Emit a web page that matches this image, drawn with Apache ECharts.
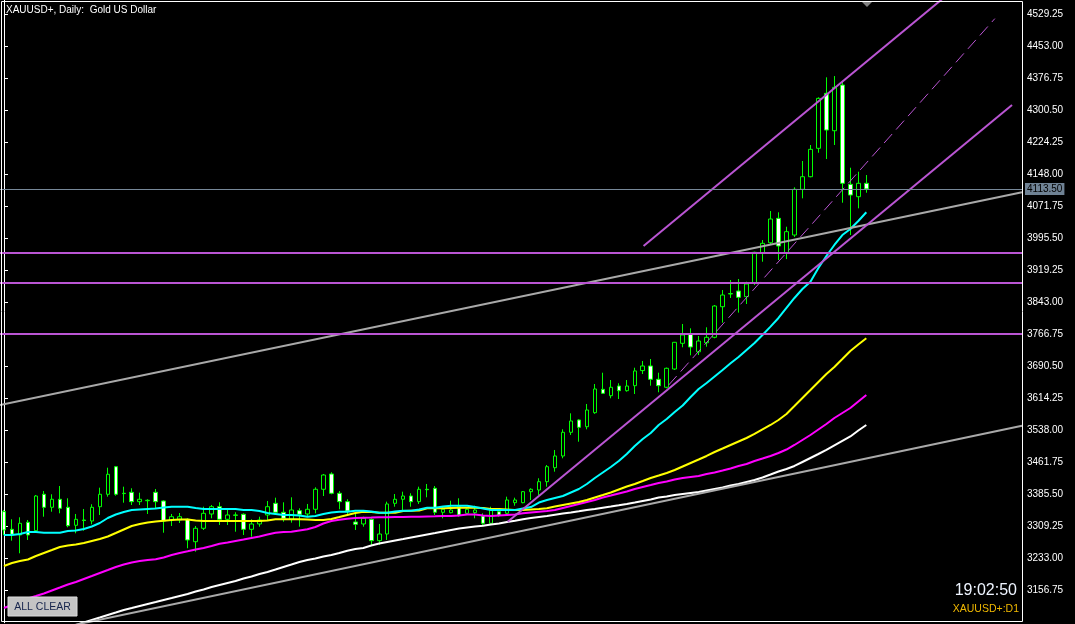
<!DOCTYPE html>
<html><head><meta charset="utf-8">
<script src="https://cdn.jsdelivr.net/npm/echarts@6/dist/echarts.min.js"></script>
<style>html,body{margin:0;padding:0;background:#000;overflow:hidden}#c{width:1075px;height:624px}</style>
</head><body><div id="c"></div>
<script>
// ---------- DATA ----------
const chartTitle = 'XAUUSD+, Daily:  Gold US Dollar';
const symbolLabel = 'XAUUSD+:D1';
const clockLabel = '19:02:50';
const buttonLabel = 'ALL CLEAR';
const emptyBarsRight = 19;

const opens = [3345,3302.9,3289.4,3319.6,3299.6,3386.3,3355.3,3374.4,3355.3,3312.5,
3325.1,3322.7,3356.7,3386.3,3452.0,3388.7,3391.0,3368.7,3371.0,3391.0,
3370.3,3325.1,3325.1,3326.7,3273.4,3305.3,3339.4,3356.7,3326.7,3337.0,
3338.7,3302.9,3315.6,3337.0,3364.8,3343.4,3326.7,3347.2,3339.4,3350.6,
3398.2,3434.6,3388.7,3368.7,3320.3,3315.6,3326.7,3275.8,3291.7,3364.8,
3374.4,3382.2,3368.7,3398.2,3400.6,3343.4,3342.5,3356.7,3341.0,3342.5,
3334.6,3317.2,3344.8,3341.0,3366.3,3366.3,3392.5,3396.5,3416.3,3449.6,
3477.5,3533.9,3563.2,3547.2,3580.6,3636.2,3621.0,3644.1,3633.0,3644.9,
3680.8,3691.8,3660.1,3641.1,3684.6,3745.8,3767.2,3725.6,3747.2,3760.1,
3832.9,3863.2,3870.3,3856.8,3888.7,3960.1,3985.3,4043.4,3960.1,4003.7,
4112.5,4142.5,4210.1,4341.1,4252.0,4360.8,4124.4,4094.9,4126.8];
const highs = [3349,3326.7,3331.5,3325.1,3384.6,3394.1,3386.3,3406.0,3376.7,3339.4,
3351.3,3362.5,3402.0,3449.6,3453.7,3404.4,3400.6,3390.1,3374.4,3398.9,
3372.0,3339.4,3341.7,3329.1,3310.8,3356.7,3360.8,3367.2,3348.9,3343.4,
3341.0,3326.7,3332.9,3370.3,3378.2,3367.2,3379.1,3352.9,3363.2,3402.9,
3434.6,3438.7,3394.1,3374.4,3341.0,3332.9,3329.1,3315.6,3368.7,3386.9,
3392.5,3388.7,3404.4,3410.8,3406.0,3356.7,3371.0,3376.7,3352.9,3359.1,
3341.0,3356.7,3352.9,3380.6,3378.2,3394.1,3400.6,3424.4,3456.0,3491.8,
3541.0,3579.1,3564.8,3601.3,3648.9,3675.8,3658.4,3650.6,3658.4,3687.7,
3703.7,3708.4,3675.8,3688.0,3749.0,3791.8,3781.5,3763.2,3783.9,3837.0,
3872.7,3896.5,3898.9,3892.5,3964.0,3991.8,4060.8,4057.7,4023.4,4117.2,
4179.9,4218.0,4331.5,4379.2,4382.2,4371.1,4163.9,4154.4,4146.5];
const lows = [3289,3275.8,3245.8,3277.5,3296.5,3332.9,3344.8,3341.0,3307.7,3293.4,
3299.6,3314.8,3337.0,3380.6,3382.9,3366.3,3360.8,3360.8,3339.4,3352.9,
3294.8,3310.8,3317.9,3257.7,3249.6,3301.3,3329.1,3313.2,3313.2,3297.2,
3289.4,3285.3,3309.1,3325.1,3338.7,3321.0,3318.7,3309.1,3332.9,3341.0,
3382.2,3386.3,3350.6,3338.7,3301.3,3309.1,3265.6,3265.6,3277.5,3356.7,
3348.9,3356.7,3363.2,3379.1,3337.0,3329.1,3341.0,3332.9,3337.0,3329.1,
3313.2,3315.6,3332.9,3337.0,3359.1,3364.8,3372.7,3384.6,3404.4,3440.1,
3472.0,3527.5,3511.5,3541.0,3577.9,3625.1,3614.9,3613.2,3630.6,3625.1,
3672.7,3644.9,3629.2,3638.7,3682.2,3736.3,3717.2,3717.9,3737.7,3757.7,
3794.9,3853.8,3818.9,3839.4,3884.6,3940.1,3979.9,3944.1,3946.3,3998.9,
4091.0,4141.1,4199.6,4184.6,4218.0,4080.6,4003.7,4067.2,4104.4];
const closes = [3301.3,3291.0,3317.2,3289.4,3382.2,3355.3,3374.4,3352.9,3311.5,3326.7,
3323.9,3355.3,3386.3,3433.9,3386.3,3387.9,3368.7,3374.4,3372.0,3368.7,
3322.7,3332.9,3332.9,3277.5,3305.3,3341.0,3356.7,3326.7,3337.0,3336.3,
3302.9,3315.6,3325.1,3356.7,3343.4,3329.1,3348.9,3338.7,3350.6,3398.2,
3432.2,3388.7,3368.7,3346.5,3314.8,3329.1,3275.8,3291.7,3363.2,3374.4,
3382.2,3368.7,3398.2,3397.2,3343.4,3350.6,3348.9,3337.0,3350.6,3348.9,
3317.2,3348.9,3337.0,3372.7,3372.7,3392.5,3398.2,3416.3,3452.0,3477.5,
3533.9,3560.8,3545.8,3587.0,3637.0,3626.8,3641.1,3633.0,3644.1,3680.0,
3691.8,3660.1,3644.9,3686.3,3748.2,3765.6,3737.0,3751.3,3760.1,3834.6,
3860.8,3864.4,3855.3,3887.0,3962.5,3983.9,4041.8,3977.5,4011.6,4112.5,
4142.5,4207.7,4329.1,4253.7,4355.3,4126.8,4098.9,4126.8,4113.5];

const maCyan = [3289.4,3289.4,3291.7,3296.5,3296.5,3294.8,3294.8,3294.8,3298.9,3300.1,
3303.6,3309.6,3317.9,3329.8,3338.2,3344.1,3348.9,3350.1,3351.3,3352.5,
3354.8,3356.7,3356.7,3356.7,3353.7,3351.3,3351.3,3351.3,3351.3,3351.3,
3348.9,3348.9,3346.5,3341.7,3339.4,3337.0,3337.0,3335.8,3332.9,3334.6,
3339.4,3342.9,3344.8,3344.8,3347.2,3347.2,3345.3,3342.5,3342.5,3345.3,
3347.2,3347.2,3350.1,3354.4,3354.4,3357.2,3359.1,3359.1,3359.1,3356.0,
3352.5,3348.9,3348.9,3348.9,3348.9,3352.5,3356.0,3366.7,3372.7,3377.5,
3382.2,3390.6,3398.9,3410.8,3425.1,3438.2,3451.3,3465.6,3482.2,3501.3,
3518.0,3532.2,3551.3,3565.6,3582.2,3597.7,3618.0,3637.0,3651.3,3666.8,
3682.3,3698.2,3713.2,3729.9,3746.5,3765.6,3785.4,3806.1,3829.9,3853.7,
3875.1,3892.5,3925.1,3953.7,3979.9,4003.7,4018.0,4037.1,4057.8];
const maYellow = [3215.5,3222.7,3227.4,3231.0,3239.4,3246.5,3253.6,3260.8,3264.4,3266.7,
3270.3,3275.1,3279.8,3285.8,3294.1,3302.5,3310.8,3315.6,3319.1,3321.5,
3323.4,3325.1,3326.3,3326.3,3323.9,3322.7,3322.7,3322.7,3322.7,3322.7,
3322.7,3322.7,3322.7,3323.9,3326.7,3326.7,3326.7,3326.7,3326.3,3325.1,
3325.1,3327.5,3332.2,3337.0,3341.7,3344.8,3344.1,3342.5,3342.5,3342.5,
3346.5,3347.2,3347.7,3352.9,3352.9,3352.9,3353.7,3354.4,3354.4,3354.4,
3353.7,3351.3,3351.3,3350.1,3348.9,3348.9,3350.1,3351.3,3352.9,3357.2,
3360.8,3364.4,3367.9,3372.7,3378.7,3384.6,3390.6,3397.7,3404.8,3410.8,
3417.9,3425.1,3431.0,3437.0,3444.1,3452.5,3460.8,3469.1,3477.5,3487.0,
3495.3,3503.7,3512.0,3520.3,3529.9,3540.6,3551.3,3563.2,3577.5,3596.5,
3615.6,3634.6,3653.7,3672.7,3689.4,3708.4,3727.5,3743.0,3757.7];
const maMagenta = [3115.5,3122.7,3131.0,3138.2,3144.1,3150.1,3157.2,3164.3,3171.5,3177.4,
3184.6,3191.7,3198.9,3206.0,3213.2,3219.1,3223.9,3227.4,3229.8,3231.5,
3235.8,3241.7,3246.5,3250.5,3254.8,3258.4,3263.2,3268.6,3271.5,3275.1,
3278.6,3282.2,3285.8,3290.6,3294.8,3296.5,3297.2,3300.1,3302.9,3308.4,
3316.7,3322.7,3325.8,3328.2,3329.8,3330.6,3331.0,3331.5,3331.7,3332.2,
3332.2,3332.7,3332.9,3333.4,3333.9,3334.6,3334.6,3335.8,3338.2,3338.2,
3335.8,3334.6,3335.8,3337.0,3338.2,3341.0,3342.9,3344.8,3346.5,3348.9,
3353.7,3358.4,3363.2,3367.9,3372.7,3378.7,3383.4,3388.2,3392.9,3398.9,
3403.7,3408.4,3413.2,3416.8,3421.5,3425.1,3427.5,3429.9,3434.6,3438.2,
3442.9,3447.7,3453.7,3458.4,3465.6,3471.5,3477.5,3484.6,3492.9,3503.7,
3515.6,3527.5,3540.6,3553.7,3568.0,3579.9,3591.8,3607.2,3622.7];
const maWhite = [null,null,null,null,null,null,null,null,null,3075.1,
3081.0,3087.0,3092.9,3098.9,3104.8,3110.8,3115.5,3120.3,3125.1,3129.8,
3134.6,3139.3,3144.1,3148.9,3154.8,3159.6,3165.5,3170.3,3175.1,3179.8,
3185.8,3190.5,3196.5,3201.3,3207.2,3213.2,3219.1,3225.1,3229.8,3233.4,
3238.2,3241.7,3246.5,3252.0,3256.0,3258.4,3264.4,3269.1,3272.7,3276.3,
3279.8,3283.4,3287.0,3290.6,3294.1,3297.7,3301.3,3304.8,3307.2,3309.6,
3311.5,3314.4,3316.7,3320.3,3323.2,3326.7,3329.8,3332.2,3334.6,3337.7,
3340.6,3342.9,3345.8,3348.9,3351.3,3354.4,3357.2,3360.1,3363.2,3366.7,
3370.3,3373.9,3378.7,3381.0,3384.6,3387.0,3389.4,3391.7,3395.3,3398.9,
3402.5,3407.2,3410.8,3415.6,3420.3,3426.3,3433.4,3440.6,3446.5,3453.7,
3463.2,3472.7,3482.2,3491.8,3502.5,3513.2,3523.9,3538.2,3551.3];

const yTicks = [3156.75,3233.00,3309.25,3385.50,3461.75,3538.00,3614.25,3690.50,3766.75,
3843.00,3919.25,3995.50,4071.75,4148.00,4224.25,4300.50,4376.75,4453.00,4529.25];
const yMin = 3080.5, yMax = 4563.3;
const levelLines = [3961.0, 3890.0, 3768.0];
const bidPrice = 4113.5;
// trend objects: [barIndex, price] anchor pairs
const grayLineA = [[-0.5, 3598.7], [127.5, 4105.6]];
const grayLineB = [[-0.5, 3037.7], [127.5, 3549.6]];
const channelLower = [[63.09, 3321.0], [126.25, 4313.3]];
const channelUpper = [[80.1, 3977.3], [126.25, 4703.1]];
const dashedLine = [[83.25, 3646.5], [124.1, 4519.0]];

// ---------- CHART ----------
const totalBars = opens.length + emptyBarsRight;
const categories = Array.from({length: totalBars}, (_, i) => 'bar' + i);
const candleData = opens.map((o, i) => [o, closes[i], lows[i], highs[i]]);
const FONT = 'Liberation Sans';

const markItems = levelLines.map(v => ({
  yAxis: v, lineStyle: {color: '#BA55D3', width: 2, type: 'solid'}, label: {show: false}
}));
markItems.push({
  yAxis: bidPrice,
  lineStyle: {color: '#778899', width: 1, type: 'solid'},
  label: {show: true, position: 'end', formatter: bidPrice.toFixed(2), backgroundColor: '#6f8294',
    color: '#000', fontFamily: FONT, fontSize: 10, lineHeight: 12, padding: [0, 2, 0, 2], distance: 3}
});

function maSeries(data, color) {
  return {type: 'line', data, showSymbol: false, symbol: 'none', silent: true, z: 3,
    lineStyle: {color, width: 2}, connectNulls: false};
}
function objSeries(pts, color, width, type) {
  return {type: 'line', xAxisIndex: 1, data: pts, showSymbol: false, symbol: 'none', silent: true,
    clip: true, z: 4, lineStyle: {color, width, type: type || 'solid'}};
}

const option = {
  backgroundColor: '#000',
  animation: false,
  grid: {left: -2, top: 0, width: 1024, height: 622.7, show: false},
  xAxis: [
    {type: 'category', data: categories, boundaryGap: true, axisLine: {show: false},
      axisTick: {show: false}, axisLabel: {show: false}, splitLine: {show: false}},
    {type: 'value', min: -0.5, max: totalBars - 0.5, show: false}
  ],
  yAxis: {
    type: 'value', position: 'right', min: yMin, max: yMax, scale: true,
    axisLine: {show: true, lineStyle: {color: '#ffffff', width: 1}},
    axisTick: {show: true, inside: false, length: 4, customValues: yTicks, lineStyle: {color: '#ffffff'}},
    axisLabel: {show: true, customValues: yTicks, color: '#ffffff', fontFamily: FONT, fontSize: 10,
      margin: 5, formatter: v => v.toFixed(2)},
    splitLine: {show: false}
  },
  series: [
    {type: 'candlestick', data: candleData, barWidth: 4, z: 2, clip: true,
      itemStyle: {color: '#000000', color0: '#ffffff', borderColor: '#00ff00', borderColor0: '#00ff00', borderWidth: 1},
      markLine: {symbol: ['none', 'none'], silent: true, animation: false, data: markItems}},
    maSeries(maWhite, '#ffffff'),
    maSeries(maMagenta, '#ff00ff'),
    maSeries(maYellow, '#ffff00'),
    maSeries(maCyan, '#00ffff'),
    objSeries(grayLineA, '#a9a9a9', 2),
    objSeries(grayLineB, '#a9a9a9', 2),
    objSeries(channelLower, '#BA55D3', 2),
    objSeries(channelUpper, '#BA55D3', 2),
    objSeries(dashedLine, '#BA55D3', 1, [12, 6])
  ],
  graphic: [
    {type: 'rect', silent: true, z: 100, shape: {x: 1.5, y: 1.5, width: 1021, height: 620},
      style: {fill: 'none', stroke: '#ffffff', lineWidth: 1}},
    {type: 'text', silent: true, z: 100, x: 6, y: 10.5,
      style: {text: chartTitle, fill: '#ffffff', font: '10px "Liberation Sans"', verticalAlign: 'middle'}},
    {type: 'polygon', silent: true, z: 100, shape: {points: [[862, 2], [872, 2], [867, 7]]}, style: {fill: '#808080'}},
    {type: 'rect', silent: true, z: 100, shape: {x: 8, y: 597, width: 69, height: 19},
      style: {fill: '#c4c4c4', stroke: '#dcdcdc', lineWidth: 1}},
    {type: 'text', silent: true, z: 101, x: 42.5, y: 607,
      style: {text: buttonLabel, fill: '#16244c', font: '10.5px "Liberation Sans"', align: 'center', verticalAlign: 'middle'}},
    {type: 'text', silent: true, z: 100, x: 1017, y: 591,
      style: {text: clockLabel, fill: '#eef4ff', font: '16px "Liberation Sans"', align: 'right', verticalAlign: 'middle'}},
    {type: 'text', silent: true, z: 100, x: 1019, y: 609.5,
      style: {text: symbolLabel, fill: '#f0b800', font: '10.5px "Liberation Sans"', align: 'right', verticalAlign: 'middle'}}
  ]
};

const chart = echarts.init(document.getElementById('c'), null, {renderer: 'canvas', width: 1075, height: 624});
chart.setOption(option);
</script>
</body></html>
